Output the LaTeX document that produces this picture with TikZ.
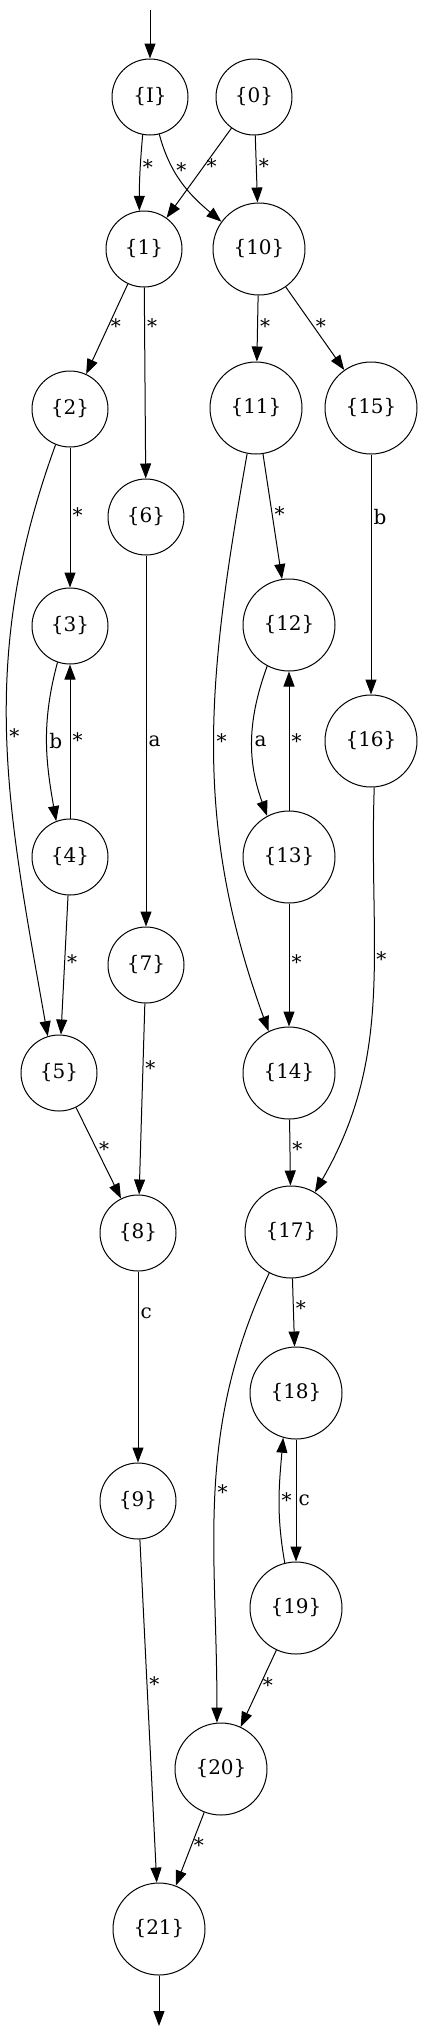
\documentclass[tikz,border=0pt]{standalone}
\usepackage{fontspec}
\setmainfont{DejaVu Serif}
\usetikzlibrary{arrows.meta}
\tikzset{
  snode/.style={draw, circle, minimum size=38pt, inner sep=0pt, line width=0.5pt,
                font=\fontsize{10}{12}\selectfont},
  bnode/.style={snode, minimum size=46pt},
  elbl/.style={anchor=west, inner sep=1pt, font=\fontsize{10}{12}\selectfont},
  tr/.style={-{Triangle[length=7.5pt, width=5.5pt]}, line width=0.5pt},
}

\begin{document}
\begin{tikzpicture}[x=0.5pt, y=0.5pt]
\useasboundingbox (0,0) rectangle (423,-2034);
% States, small and large circles
\foreach \n/\x/\y in {I/150/97, 0/254/97, 1/144/249, 2/70/409, 6/146/517,
  3/70/626, 4/70/857, 7/146/965, 5/59/1073, 8/138/1233, 9/138/1501}
  \node[snode] (q\n) at (\x,-\y) {\{\n\}};
\foreach \n/\x/\y in {10/259/249, 11/256/408, 15/371/408, 12/289/625, 16/371/741,
  13/289/857, 14/289/1073, 17/291/1232, 18/296/1393, 19/296/1608, 20/221/1769, 21/159/1929}
  \node[bnode] (q\n) at (\x,-\y) {\{\n\}};
% Entry and exit
\coordinate (start) at (150,-10);
\coordinate (stop) at (159,-2026);
\draw[tr] (start) -- (qI);
\draw[tr] (q21) -- (stop);
% Straight transitions
\foreach \a/\b/\l/\p in {0/10/*/0.45, 0/1/*/0.42, 1/2/*/0.47, 1/6/*/0.2, 10/11/*/0.46,
  10/15/*/0.47, 2/3/*/0.48, 4/3/*/0.51, 4/5/*/0.48, 5/8/*/0.46, 6/7/a/0.5, 7/8/*/0.34,
  8/9/c/0.22, 9/21/*/0.42, 11/12/*/0.48, 13/12/*/0.5, 13/14/*/0.48, 14/17/*/0.45,
  15/16/b/0.26, 17/18/*/0.43, 18/19/c/0.5, 19/20/*/0.45, 20/21/*/0.45}
  \draw[tr] (q\a) -- node[elbl, pos=\p] {\l} (q\b);
% Curved transitions
\draw[tr] (qI.-101) to[out=-95, in=90] node[elbl, pos=0.42] {*} (q1.97);
\draw[tr] (qI.-76) to[out=-75, in=140] node[elbl, pos=0.35] {*} (q10.144);
\draw[tr] (q2.-112) to[out=-110, in=100] node[elbl, pos=0.5] {*} (q5.107);
\draw[tr] (q3.-109) to[out=-105, in=100] node[elbl, pos=0.5] {b} (q4.111);
\draw[tr] (q11.-101) to[out=-100, in=110] node[elbl, pos=0.49] {*} (q14.116);
\draw[tr] (q12.-118) to[out=-110, in=110] node[elbl, pos=0.5] {a} (q13.118);
\draw[tr] (q16.-86) to[out=-92, in=60] node[elbl, pos=0.4] {*} (q17.59);
\draw[tr] (q17.-118) to[out=-115, in=90] node[elbl, pos=0.5] {*} (q20.95);
\draw[tr] (q19.104) to[out=100, in=-95] node[elbl, pos=0.5] {*} (q18.-106);
\end{tikzpicture}
\end{document}
